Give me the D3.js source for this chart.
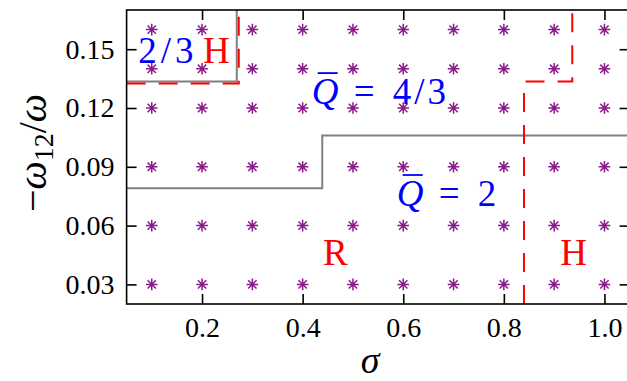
<!DOCTYPE html>
<html>
<head>
<meta charset="utf-8">
<script src="https://cdn.jsdelivr.net/npm/d3@7"></script>
</head>
<body style="margin:0;padding:0;background:#fff">
<svg id="chart" width="627" height="381" style="display:block"></svg>
<script>
// ---- data ----
const sigmaValues = [0.1, 0.2, 0.3, 0.4, 0.5, 0.6, 0.7, 0.8, 0.9, 1.0];
const omegaValues = [0.03, 0.06, 0.09, 0.12, 0.14, 0.16];
const xTicks = [0.2, 0.4, 0.6, 0.8, 1.0];
const xTickLabels = ["0.2", "0.4", "0.6", "0.8", "1.0"];
const yTicks = [0.03, 0.06, 0.09, 0.12, 0.15];
const yTickLabels = ["0.03", "0.06", "0.09", "0.12", "0.15"];
const xDomain = [0.05, 1.05];
const yDomain = [0.02, 0.17];
// boundaries (sigma, -w12/w)
const qBoundaryTop = [[0.05, 0.1335], [0.269, 0.1335], [0.269, 0.17]];
const qBoundaryMain = [[0.05, 0.079], [0.439, 0.079], [0.439, 0.106], [1.05, 0.106]];
const hBoundaryTop = [[0.05, 0.1325], [0.273, 0.1325], [0.273, 0.17]];
const hBoundaryRight = [[0.84, 0.02], [0.84, 0.1335], [0.936, 0.1335], [0.936, 0.17]];
// region labels (anchor in data units)
const labelSigma = [0.073, 0.202, 0.418, 0.587, 0.4405, 0.912];
const labelOmega = [0.143, 0.143, 0.122, 0.070, 0.0399, 0.0399];
const labelText = ["2/3", "H", "4/3", "2", "R", "H"];
const labelHasQ = [false, false, true, true, false, false];
const labelColor = ["#0000ff", "#ff0000", "#0000ff", "#0000ff", "#ff0000", "#ff0000"];

const FONT = '"Liberation Serif"';

// ---- layout ----
const W = 627, H = 381;
const m = {left: 126.6, right: W - 629.6, top: 10, bottom: H - 304};
const svg = d3.select("#chart");
const x = d3.scaleLinear().domain(xDomain).range([m.left, W - m.right]);
const y = d3.scaleLinear().domain(yDomain).range([H - m.bottom, m.top]);

const plot = svg.append("g");
svg.append("defs").append("clipPath").attr("id", "clip")
  .append("rect").attr("x", x(xDomain[0])).attr("y", y(yDomain[1]))
  .attr("width", x(xDomain[1]) - x(xDomain[0])).attr("height", y(yDomain[0]) - y(yDomain[1]));

const inner = plot.append("g").attr("clip-path", "url(#clip)");
const line = d3.line().x(d => x(d[0])).y(d => y(d[1]));

// points
const pts = [];
omegaValues.forEach(w => sigmaValues.forEach(s => pts.push([s, w])));
const r = 5.8;
const k = r * 0.72;
const starPath = `M0,${-r}L0,${r}M${-r},0L${r},0M${-k},${-k}L${k},${k}M${-k},${k}L${k},${-k}`;
inner.selectAll("path.star").data(pts).join("path")
  .attr("class", "star")
  .attr("transform", d => `translate(${x(d[0])},${y(d[1])})`)
  .attr("d", starPath)
  .attr("stroke", "#8b1a8b").attr("stroke-width", 1.5).attr("fill", "none");

// gray boundaries
[qBoundaryTop, qBoundaryMain].forEach(b => {
  inner.append("path").attr("d", line(b)).attr("fill", "none")
    .attr("stroke", "#808080").attr("stroke-width", 2);
});
// red dashed boundaries
[hBoundaryTop, hBoundaryRight].forEach(b => {
  inner.append("path").attr("d", line(b)).attr("fill", "none")
    .attr("stroke", "#ff0000").attr("stroke-width", 2)
    .attr("stroke-dasharray", "19,13");
});

// region labels
labelText.forEach((txt, i) => {
  const bx = x(labelSigma[i]), by = y(labelOmega[i]);
  const t = plot.append("text")
    .attr("x", bx).attr("y", by)
    .attr("fill", labelColor[i])
    .style("font-family", FONT).style("font-size", "37px");
  if (labelHasQ[i]) {
    t.append("tspan").style("font-style", "italic").text("Q");
    t.append("tspan").attr("x", bx + 42).text("=");
    t.append("tspan").attr("x", bx + 81).style("letter-spacing", txt.length > 1 ? "3px" : "0px").text(txt);
    plot.append("line")
      .attr("x1", bx + 6).attr("x2", bx + 26)
      .attr("y1", by - 31).attr("y2", by - 31)
      .attr("stroke", labelColor[i]).attr("stroke-width", 1.8);
  } else {
    t.style("letter-spacing", txt.length > 1 ? "4px" : "0px").text(txt);
  }
});

// frame
const x0 = x(xDomain[0]), x1 = x(xDomain[1]), y0 = y(yDomain[0]), y1 = y(yDomain[1]);
plot.append("rect").attr("x", x0).attr("y", y1).attr("width", x1 - x0).attr("height", y0 - y1)
  .attr("fill", "none").attr("stroke", "#000").attr("stroke-width", 1.6);

const tickLen = 10;
const fmtX = (d, i) => xTickLabels[i];
const fmtY = (d, i) => yTickLabels[i];
const axB = plot.append("g").attr("transform", `translate(0,${y0})`)
  .call(d3.axisBottom(x).tickValues(xTicks).tickFormat(fmtX).tickSizeInner(-tickLen).tickSizeOuter(0).tickPadding(13));
const axT = plot.append("g").attr("transform", `translate(0,${y1})`)
  .call(d3.axisTop(x).tickValues(xTicks).tickFormat("").tickSizeInner(-tickLen).tickSizeOuter(0));
const axL = plot.append("g").attr("transform", `translate(${x0},0)`)
  .call(d3.axisLeft(y).tickValues(yTicks).tickFormat(fmtY).tickSizeInner(-tickLen).tickSizeOuter(0).tickPadding(12));
const axR = plot.append("g").attr("transform", `translate(${x1},0)`)
  .call(d3.axisRight(y).tickValues(yTicks).tickFormat("").tickSizeInner(-tickLen).tickSizeOuter(0));
[axB, axT, axL, axR].forEach(a => {
  a.select(".domain").remove();
  a.selectAll(".tick line").attr("stroke", "#000").attr("stroke-width", 1.6);
  a.selectAll(".tick text").attr("fill", "#000")
    .style("font-family", FONT).style("font-size", "28px");
});

// axis titles
svg.append("text").attr("x", 370).attr("y", 373).attr("text-anchor", "middle")
  .style("font-family", FONT).style("font-size", "38px").style("font-style", "italic").text("σ");

const yl = svg.append("text").attr("transform", "translate(46,153) rotate(-90)")
  .attr("text-anchor", "middle").style("font-family", FONT).style("font-size", "40px");
yl.append("tspan").text("−");
yl.append("tspan").style("font-style", "italic").text("ω");
yl.append("tspan").style("font-size", "28px").attr("dy", 7).text("12");
yl.append("tspan").attr("dy", -7).text("/");
yl.append("tspan").style("font-style", "italic").text("ω");
</script>
</body>
</html>
